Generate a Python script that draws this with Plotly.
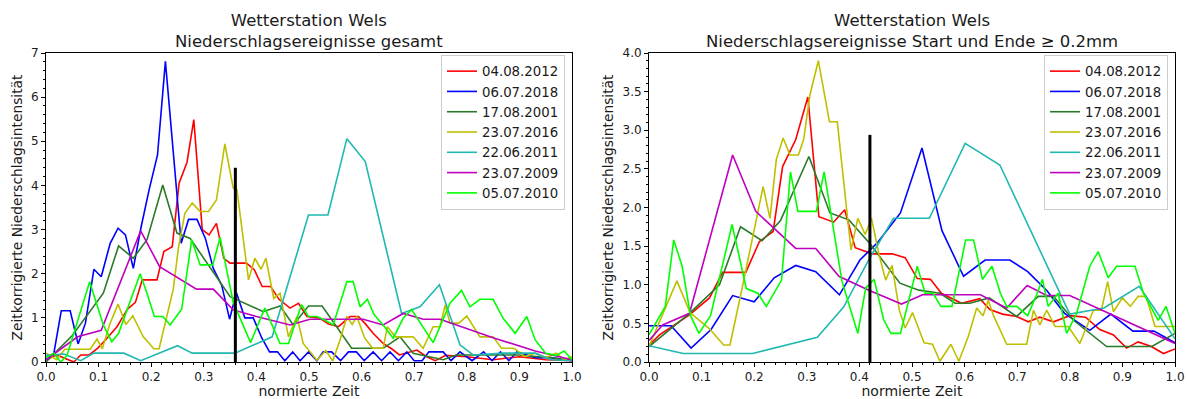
import plotly.graph_objects as go

W, H = 1187, 399

# ---------------- series metadata ----------------
dates = ["04.08.2012", "06.07.2018", "17.08.2001", "23.07.2016",
         "22.06.2011", "23.07.2009", "05.07.2010"]
colors = ["#ff0000", "#0000ff", "#2a7a2a", "#bfbf00", "#20b8b0", "#bf00bf", "#00ff00"]

titles = ["Wetterstation Wels<br>Niederschlagsereignisse gesamt",
          "Wetterstation Wels<br>Niederschlagsereignisse Start und Ende ≥ 0.2mm"]
x_title = "normierte Zeit"
y_title = "Zeitkorrigierte Niederschlagsintensität"

# ---------------- left panel: all events ----------------
L_red_x = [0.0, 0.02, 0.053, 0.066, 0.082, 0.098, 0.113, 0.135, 0.155, 0.17, 0.183, 0.211, 0.224, 0.24, 0.253, 0.268,
           0.281, 0.297, 0.31, 0.324, 0.338, 0.35, 0.381, 0.396, 0.411, 0.427, 0.443, 0.464, 0.48, 0.496, 0.521,
           0.537, 0.556, 0.578, 0.594, 0.606, 0.622, 0.641, 0.657, 0.672, 0.705, 0.724, 0.74, 0.76, 0.8, 0.85,
           0.9, 0.95, 1.0]
L_red_y = [0.05, 0.16, 0.0, 0.16, 0.16, 0.31, 0.5, 0.8, 1.2, 1.35, 1.86, 1.86, 2.5, 2.61, 4.05, 4.52,
           5.49, 3.0, 2.88, 3.14, 2.35, 2.24, 2.24, 2.09, 1.71, 1.71, 1.42, 1.22, 1.33, 1.03, 0.99,
           0.86, 0.8, 1.03, 1.03, 0.88, 0.65, 0.42, 0.3, 0.16, 0.27, 0.12, 0.03, 0.15, 0.12, 0.05,
           0.12, 0.05, 0.03]

L_blue_x = [0.0, 0.015, 0.029, 0.046, 0.061, 0.075, 0.091, 0.105, 0.122, 0.137, 0.151, 0.166, 0.181, 0.196, 0.212,
            0.227, 0.257, 0.271, 0.287, 0.303, 0.318, 0.334, 0.349, 0.362, 0.378, 0.394, 0.41, 0.425, 0.44,
            0.454, 0.469, 0.483, 0.499, 0.515, 0.527, 0.543, 0.56, 0.575, 0.59, 0.605, 0.622, 0.638, 0.654,
            0.67, 0.686, 0.7, 0.715, 0.728, 0.743, 0.755, 0.77, 0.787, 0.81, 0.832, 0.848, 0.864, 0.88, 0.895,
            0.93, 0.96, 1.0]
L_blue_y = [0.05, 0.2, 1.16, 1.16, 0.41, 0.88, 2.1, 1.93, 2.69, 3.03, 2.88, 2.12, 3.07, 3.9, 4.69,
            6.81, 2.69, 3.23, 3.23, 2.8, 2.12, 1.74, 0.97, 1.57, 1.0, 1.0, 0.55, 0.23, 0.23,
            0.03, 0.23, 0.03, 0.23, 0.03, 0.23, 0.23, 0.03, 0.23, 0.23, 0.03, 0.23, 0.03, 0.23,
            0.03, 0.23, 0.03, 0.03, 0.23, 0.23, 0.23, 0.03, 0.23, 0.03, 0.23, 0.03, 0.23, 0.03, 0.23,
            0.1, 0.1, 0.03]

L_dgreen_x = [0.0, 0.05, 0.109, 0.138, 0.166, 0.192, 0.222, 0.249, 0.274, 0.35, 0.413, 0.445, 0.47, 0.499,
              0.525, 0.55, 0.581, 0.641, 0.673, 0.698, 0.755, 0.78, 0.9, 1.0]
L_dgreen_y = [0.0, 0.6, 1.56, 2.63, 2.35, 2.77, 4.01, 2.92, 2.8, 1.48, 1.14, 1.27, 0.84, 1.27,
              1.27, 0.84, 0.31, 0.31, 0.57, 0.2, 0.05, 0.16, 0.16, 0.05]

L_yellow_x = [0.0, 0.02, 0.036, 0.084, 0.097, 0.107, 0.121, 0.137, 0.152, 0.165, 0.185, 0.205, 0.215, 0.23,
              0.242, 0.252, 0.264, 0.278, 0.293, 0.309, 0.324, 0.34, 0.356, 0.363, 0.385, 0.397, 0.409, 0.418,
              0.433, 0.445, 0.461, 0.477, 0.489, 0.502, 0.515, 0.532, 0.545, 0.559, 0.572, 0.582, 0.591, 0.606,
              0.621, 0.641, 0.649, 0.664, 0.679, 0.698, 0.717, 0.736, 0.749, 0.759, 0.768, 0.785, 0.8, 0.825,
              0.85, 0.866, 0.89, 0.91, 0.93, 0.95, 0.97, 0.985, 1.0]
L_yellow_y = [0.2, 0.05, 0.29, 0.29, 0.52, 0.3, 0.85, 1.31, 0.85, 1.05, 0.57, 0.3, 0.3, 1.07,
              1.65, 2.61, 3.37, 3.6, 3.41, 3.41, 3.67, 4.94, 3.94, 3.9, 1.86, 2.35, 2.1, 2.35,
              1.44, 1.56, 0.57, 1.03, 0.42, 0.23, 0.04, 0.26, 0.02, 0.5, 1.03, 0.85, 1.03, 0.54,
              0.31, 0.31, 0.8, 0.57, 0.57, 0.57, 0.31, 0.8, 0.8, 1.29, 0.88, 0.88, 1.04, 0.57,
              0.57, 0.31, 0.31, 0.12, 0.2, 0.1, 0.2, 0.05, 0.12]

L_cyan_x = [0.0, 0.034, 0.066, 0.091, 0.148, 0.18, 0.25, 0.278, 0.359, 0.43, 0.499, 0.536, 0.572, 0.607,
            0.676, 0.711, 0.748, 0.787, 0.812, 0.87, 0.93, 0.96, 1.0]
L_cyan_y = [0.15, 0.18, 0.03, 0.2, 0.2, 0.03, 0.37, 0.2, 0.2, 0.57, 3.33, 3.33, 5.06, 4.54,
            1.1, 1.25, 1.75, 0.39, 0.16, 0.2, 0.2, 0.05, 0.03]

L_magenta_x = [0.0, 0.06, 0.105, 0.18, 0.216, 0.286, 0.318, 0.356, 0.40, 0.464, 0.502, 0.603, 0.641, 0.679,
               0.717, 0.749, 0.85, 0.93, 1.0]
L_magenta_y = [0.05, 0.57, 0.72, 2.97, 2.16, 1.65, 1.65, 1.18, 1.03, 0.84, 0.97, 0.97, 0.84, 1.1,
               0.97, 0.97, 0.55, 0.25, 0.05]

L_lime_x = [0.0, 0.015, 0.028, 0.04, 0.083, 0.109, 0.125, 0.138, 0.179, 0.192, 0.206, 0.222, 0.236, 0.258,
            0.277, 0.293, 0.317, 0.331, 0.356, 0.389, 0.416, 0.445, 0.461, 0.486, 0.499, 0.515, 0.53, 0.546,
            0.572, 0.584, 0.597, 0.611, 0.624, 0.641, 0.66, 0.679, 0.695, 0.705, 0.724, 0.736, 0.768, 0.79,
            0.806, 0.825, 0.85, 0.869, 0.892, 0.914, 0.93, 0.95, 0.97, 0.985, 1.0]
L_lime_y = [0.1, 0.2, 0.0, 0.15, 1.82, 0.84, 0.46, 0.65, 2.0, 1.56, 1.03, 1.03, 0.84, 1.2,
            2.77, 2.2, 2.2, 2.82, 1.35, 0.44, 1.22, 0.42, 0.42, 1.3, 1.03, 1.03, 0.95, 0.84,
            1.82, 1.82, 1.25, 1.42, 1.07, 0.84, 0.54, 0.99, 1.19, 1.0, 0.65, 0.44, 1.33, 1.62,
            1.25, 1.42, 1.42, 0.99, 0.65, 1.03, 0.5, 0.2, 0.15, 0.25, 0.05]

L_marker_x = 0.36
L_marker_top = 4.4

# ---------------- right panel: start and end >= 0.2 mm ----------------
R_red_x = [0.0, 0.02, 0.077, 0.115, 0.14, 0.184, 0.21, 0.236, 0.254, 0.279, 0.302, 0.323, 0.351, 0.372, 0.392,
           0.424, 0.462, 0.487, 0.51, 0.535, 0.556, 0.594, 0.629, 0.648, 0.672, 0.699, 0.721, 0.743, 0.769,
           0.8, 0.83, 0.857, 0.883, 0.908, 0.93, 0.955, 0.978, 1.0]
R_red_y = [0.22, 0.35, 0.61, 0.83, 1.16, 1.16, 1.56, 1.69, 2.53, 2.88, 3.43, 1.88, 1.81, 1.97, 1.48,
           1.4, 1.4, 1.35, 1.08, 1.07, 0.89, 0.76, 0.82, 0.68, 0.62, 0.59, 0.52, 0.58, 0.52,
           0.6, 0.58, 0.42, 0.35, 0.18, 0.26, 0.2, 0.11, 0.17]

R_blue_x = [0.0, 0.042, 0.08, 0.118, 0.159, 0.2, 0.238, 0.279, 0.317, 0.362, 0.401, 0.435, 0.478, 0.519, 0.557,
            0.598, 0.639, 0.686, 0.72, 0.757, 0.79, 0.838, 0.878, 0.92, 0.96, 1.0]
R_blue_y = [0.47, 0.47, 0.18, 0.42, 0.86, 0.78, 1.09, 1.25, 1.17, 0.87, 1.32, 1.55, 1.93, 2.77, 1.7,
            1.11, 1.32, 1.32, 1.17, 0.92, 0.63, 0.41, 0.62, 0.4, 0.4, 0.25]

R_dgreen_x = [0.0, 0.077, 0.134, 0.174, 0.215, 0.25, 0.304, 0.344, 0.38, 0.419, 0.477, 0.513, 0.553, 0.582,
              0.61, 0.647, 0.699, 0.74, 0.769, 0.807, 0.87, 0.956, 1.0]
R_dgreen_y = [0.2, 0.63, 1.0, 1.75, 1.57, 1.83, 2.66, 1.93, 1.84, 1.54, 1.02, 0.93, 0.89, 0.76,
              0.76, 0.83, 0.59, 0.85, 0.85, 0.54, 0.2, 0.2, 0.37]

R_yellow_x = [0.0, 0.053, 0.078, 0.115, 0.142, 0.154, 0.175, 0.217, 0.23, 0.242, 0.255, 0.268, 0.284, 0.294,
              0.306, 0.322, 0.343, 0.358, 0.384, 0.397, 0.411, 0.423, 0.438, 0.45, 0.462, 0.476, 0.487, 0.501,
              0.523, 0.539, 0.553, 0.574, 0.589, 0.607, 0.623, 0.635, 0.645, 0.655, 0.68, 0.718, 0.731, 0.743,
              0.756, 0.772, 0.797, 0.819, 0.845, 0.86, 0.872, 0.883, 0.9, 0.915, 0.93, 0.945, 0.962, 1.0]
R_yellow_y = [0.2, 1.05, 0.64, 0.43, 0.22, 0.22, 0.89, 2.27, 1.86, 2.62, 2.9, 2.68, 2.68, 2.88,
              3.46, 3.9, 3.11, 3.11, 1.45, 1.86, 1.65, 1.86, 1.37, 1.06, 1.25, 0.67, 0.44, 0.64,
              0.25, 0.23, 0.01, 0.23, 0.01, 0.33, 0.7, 0.6, 0.8, 0.6, 0.23, 0.23, 0.67, 0.48,
              0.67, 0.46, 0.46, 0.24, 0.67, 0.67, 1.04, 0.65, 0.83, 0.72, 0.85, 0.85, 0.46, 0.46]

R_cyan_x = [0.0, 0.065, 0.197, 0.32, 0.37, 0.42, 0.465, 0.533, 0.601, 0.667, 0.8, 0.865, 0.932, 1.0]
R_cyan_y = [0.21, 0.11, 0.11, 0.32, 0.71, 1.35, 1.86, 1.86, 2.83, 2.55, 0.62, 0.7, 0.98, 0.3]

R_magenta_x = [0.0, 0.026, 0.077, 0.159, 0.203, 0.279, 0.317, 0.361, 0.418, 0.48, 0.52, 0.63, 0.68, 0.719,
               0.756, 0.8, 1.0]
R_magenta_y = [0.28, 0.48, 0.63, 2.68, 1.95, 1.47, 1.47, 1.11, 0.93, 0.75, 0.87, 0.87, 0.7, 0.99,
               0.86, 0.86, 0.24]

R_lime_x = [0.0, 0.031, 0.047, 0.063, 0.079, 0.095, 0.117, 0.158, 0.185, 0.207, 0.223, 0.252, 0.269, 0.283,
            0.318, 0.333, 0.367, 0.397, 0.412, 0.428, 0.446, 0.46, 0.478, 0.51, 0.525, 0.54, 0.555, 0.576,
            0.602, 0.617, 0.634, 0.652, 0.668, 0.68, 0.699, 0.72, 0.738, 0.748, 0.759, 0.778, 0.794, 0.813,
            0.838, 0.854, 0.873, 0.889, 0.924, 0.94, 0.968, 0.983, 1.0]
R_lime_y = [0.35, 0.72, 1.58, 1.24, 0.6, 0.37, 0.6, 1.78, 0.95, 0.89, 0.72, 1.06, 2.46, 1.95,
            1.95, 2.46, 1.04, 0.37, 0.96, 1.07, 0.55, 0.37, 0.37, 1.24, 0.89, 0.89, 0.72, 0.72,
            1.58, 1.58, 1.07, 1.24, 0.89, 0.72, 0.72, 0.6, 0.89, 1.07, 0.72, 0.89, 0.37, 0.63,
            1.24, 1.43, 1.09, 1.24, 1.24, 0.89, 0.54, 0.72, 0.37]

R_marker_x = 0.42
R_marker_top = 2.94

left_series = [(L_red_x, L_red_y), (L_blue_x, L_blue_y), (L_dgreen_x, L_dgreen_y), (L_yellow_x, L_yellow_y),
               (L_cyan_x, L_cyan_y), (L_magenta_x, L_magenta_y), (L_lime_x, L_lime_y)]
right_series = [(R_red_x, R_red_y), (R_blue_x, R_blue_y), (R_dgreen_x, R_dgreen_y), (R_yellow_x, R_yellow_y),
                (R_cyan_x, R_cyan_y), (R_magenta_x, R_magenta_y), (R_lime_x, R_lime_y)]

# ---------------- figure ----------------
fig = go.Figure()
FONT = "DejaVu Sans"
TXT = "#1a1a1a"

for (xs, ys), name, col in zip(left_series, dates, colors):
    fig.add_trace(go.Scatter(x=xs, y=ys, mode="lines", name=name, line=dict(color=col, width=1.6),
                             xaxis="x", yaxis="y", legend="legend"))
fig.add_trace(go.Scatter(x=[L_marker_x, L_marker_x], y=[0, L_marker_top], mode="lines",
                         line=dict(color="black", width=3), showlegend=False, xaxis="x", yaxis="y"))

for (xs, ys), name, col in zip(right_series, dates, colors):
    fig.add_trace(go.Scatter(x=xs, y=ys, mode="lines", name=name, line=dict(color=col, width=1.6),
                             xaxis="x2", yaxis="y2", legend="legend2"))
fig.add_trace(go.Scatter(x=[R_marker_x, R_marker_x], y=[0, R_marker_top], mode="lines",
                         line=dict(color="black", width=3), showlegend=False, xaxis="x2", yaxis="y2"))

ydom = [37 / H, 346 / H]
ax_common = dict(showline=True, mirror=True, linecolor="black", linewidth=1, showgrid=False, zeroline=False,
                 automargin=False, ticks="outside", ticklen=4, tickcolor="black",
                 tickfont=dict(family=FONT, size=12, color=TXT))

xcommon = dict(ax_common, range=[0, 1], dtick=0.1, tick0=0, tickformat=".1f",
               minor=dict(ticks="outside", ticklen=2, dtick=0.02, tickcolor="black"),
               title=dict(text=x_title, font=dict(family=FONT, size=14, color=TXT), standoff=0))

ytitle_font = dict(family=FONT, size=13.8, color=TXT)

fig.update_layout(
    width=W, height=H, margin=dict(l=0, r=0, t=0, b=0),
    paper_bgcolor="white", plot_bgcolor="white",
    font=dict(family=FONT, color=TXT),
    xaxis=dict(xcommon, domain=[46 / W, 572 / W], anchor="y"),
    xaxis2=dict(xcommon, domain=[649 / W, 1175 / W], anchor="y2"),
    yaxis=dict(ax_common, domain=ydom, range=[0, 7], dtick=1, tick0=0, anchor="x",
               minor=dict(ticks="outside", ticklen=2, dtick=0.2, tickcolor="black"),
               title=dict(text=y_title, font=ytitle_font, standoff=5)),
    yaxis2=dict(ax_common, domain=ydom, range=[0, 4], dtick=0.5, tick0=0, tickformat=".1f", anchor="x2",
                minor=dict(ticks="outside", ticklen=2, dtick=0.1, tickcolor="black"),
                title=dict(text=y_title, font=ytitle_font, standoff=5)),
    legend=dict(x=565 / W, xanchor="right", y=1 - 55 / H, yanchor="top", bgcolor="rgba(255,255,255,0.85)",
                bordercolor="#cccccc", borderwidth=1, font=dict(family=FONT, size=13.3, color=TXT)),
    legend2=dict(x=1168 / W, xanchor="right", y=1 - 55 / H, yanchor="top", bgcolor="rgba(255,255,255,0.85)",
                 bordercolor="#cccccc", borderwidth=1, font=dict(family=FONT, size=13.3, color=TXT)),
    annotations=[
        dict(text=titles[0], x=309 / W, y=1 - 31 / H, xref="paper", yref="paper", showarrow=False,
             xanchor="center", yanchor="middle", font=dict(family=FONT, size=16.5, color=TXT)),
        dict(text=titles[1], x=912 / W, y=1 - 31 / H, xref="paper", yref="paper", showarrow=False,
             xanchor="center", yanchor="middle", font=dict(family=FONT, size=16.5, color=TXT)),
    ],
)

fig.write_html("out.html")
